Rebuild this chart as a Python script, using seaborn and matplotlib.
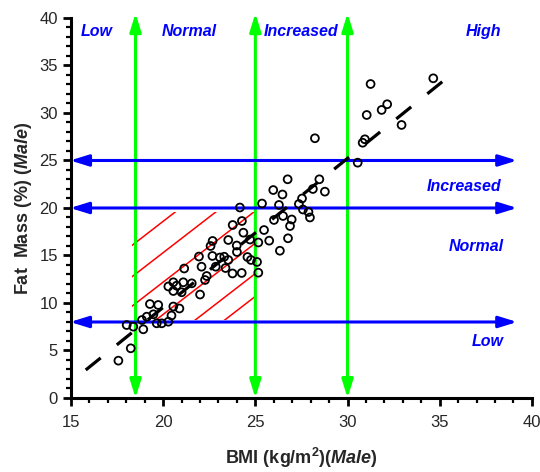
import numpy as np
import pandas as pd
import matplotlib
matplotlib.use('Agg')
import matplotlib.pyplot as plt
from matplotlib.patches import Rectangle
import seaborn as sns

# BMI vs fat mass, male subjects
bmi = [34.65, 31.25, 31.04, 31.85, 32.15, 32.93, 30.94, 30.82, 28.23, 30.55,
       28.47, 28.12, 28.77, 26.75, 25.97, 26.47, 27.53, 27.36, 27.58, 27.88,
       27.96, 25.36, 26.28, 24.16, 26.50, 26.01, 26.97, 26.88, 25.47, 23.77,
       24.27, 24.35, 26.77, 26.33, 25.75, 25.16, 24.71, 23.53, 23.99, 22.68,
       22.57, 24.00, 24.57, 24.76, 25.09, 23.31, 22.67, 23.08, 23.53, 21.94,
       22.08, 22.85, 23.76, 24.26, 25.16, 22.36, 21.14, 23.38, 22.27, 20.55,
       21.09, 21.55, 20.28, 20.73, 20.55, 21.00, 22.00, 19.28, 19.73, 20.55,
       20.88, 19.47, 19.11, 20.45, 19.65, 19.92, 20.28, 18.02, 18.38, 18.92,
       18.85, 18.24, 17.57]
fat = [33.65, 33.05, 29.79, 30.32, 30.92, 28.74, 27.23, 26.87, 27.34, 24.77,
       23.02, 22.00, 21.72, 23.02, 21.89, 21.42, 21.00, 20.42, 19.84, 19.58,
       19.00, 20.47, 20.32, 20.05, 19.16, 18.74, 18.79, 18.10, 17.68, 18.21,
       18.63, 17.40, 16.81, 15.50, 16.56, 16.37, 16.68, 16.63, 16.05, 16.53,
       16.00, 15.37, 14.84, 14.53, 14.32, 14.87, 14.95, 14.79, 14.53, 14.89,
       13.82, 13.82, 13.11, 13.16, 13.19, 12.84, 13.63, 13.68, 12.42, 12.18,
       12.18, 12.07, 11.74, 11.82, 11.26, 11.13, 10.89, 9.89, 9.79, 9.63,
       9.42, 8.81, 8.56, 8.68, 7.86, 7.86, 8.03, 7.68, 7.51, 7.23,
       8.21, 5.23, 3.93]

# regression line (end points)
fit_x = [15.8, 35.4]
fit_y = [2.95, 33.7]

# category cut-offs
bmi_cuts = [18.5, 25, 30]
fat_cuts = [25, 20, 8]
bmi_labels = ['Low', 'Normal', 'Increased', 'High']
bmi_label_x = [16.4, 21.4, 27.5, 37.4]
fat_labels = ['Increased', 'Normal', 'Low']
fat_label_x = [36.3, 37.0, 37.6]
fat_label_y = [22.3, 15.9, 5.9]

# hatched "normal" zone: lines y = 1.5*(x-15) + offset
hatch_slope = 1.5
hatch_offsets = [11.1, 7.8, 4.7, 1.3, -1.9, -4.3]
hatch_box = (18.3, 8.2, 25.0, 19.6)

df = pd.DataFrame({'bmi': bmi, 'fat': fat})

sns.set_style('ticks')
plt.rcParams['font.family'] = ['Liberation Sans', 'DejaVu Sans']
plt.rcParams['mathtext.fontset'] = 'custom'
plt.rcParams['mathtext.rm'] = 'Liberation Sans:bold'
plt.rcParams['mathtext.bf'] = 'Liberation Sans:bold'
plt.rcParams['mathtext.it'] = 'Liberation Sans:bold:italic'

fig = plt.figure(figsize=(5.4, 4.72), dpi=100)
ax = fig.add_axes([0.1315, 0.1568, 0.8535, 0.8051])

# hatch
rect = Rectangle((hatch_box[0], hatch_box[1]), hatch_box[2] - hatch_box[0],
                 hatch_box[3] - hatch_box[1], transform=ax.transData)
xx = np.array([15, 40])
for off in hatch_offsets:
    ln, = ax.plot(xx, hatch_slope * (xx - 15) + off, color='#ff0000', lw=1.1, zorder=1)
    ln.set_clip_path(rect)

# arrows
for x in bmi_cuts:
    ax.annotate('', xy=(x, 40.5), xytext=(x, 0),
                arrowprops=dict(arrowstyle='<|-|>,head_length=0.55,head_width=0.17',
                                color='#00ff00', lw=2.2, mutation_scale=20,
                                shrinkA=0, shrinkB=0),
                annotation_clip=False, zorder=2)
for y in fat_cuts:
    ax.annotate('', xy=(39.2, y), xytext=(14.95, y),
                arrowprops=dict(arrowstyle='<|-|>,head_length=0.55,head_width=0.17',
                                color='#0000ff', lw=2.2, mutation_scale=20,
                                shrinkA=0, shrinkB=0),
                annotation_clip=False, zorder=2)

# regression
line, = ax.plot(fit_x, fit_y, color='black', lw=2.3, zorder=3)
line.set_dashes((6, 6.5))

sns.scatterplot(data=df, x='bmi', y='fat', marker='o', s=32,
                facecolor='none', edgecolor='black', linewidth=1.3, ax=ax, zorder=4)

for lab, x in zip(bmi_labels, bmi_label_x):
    ax.text(x, 38.55, lab, color='#0000ff', fontsize=11.5, fontweight='bold',
            fontstyle='italic', ha='center', va='center')
for lab, x, y in zip(fat_labels, fat_label_x, fat_label_y):
    ax.text(x, y, lab, color='#0000ff', fontsize=11.5, fontweight='bold',
            fontstyle='italic', ha='center', va='center')

ax.set_xlim(15, 40)
ax.set_ylim(0, 40)
ax.set_xticks([15, 20, 25, 30, 35, 40])
ax.set_yticks([0, 5, 10, 15, 20, 25, 30, 35, 40])
ax.set_xticks(np.arange(15, 41, 1), minor=True)
ax.set_yticks(np.arange(0, 41, 1), minor=True)
ax.tick_params(which='major', direction='out', length=6, width=2, labelsize=12, color='black')
ax.tick_params(axis='x', which='major', pad=6)
ax.tick_params(which='minor', direction='out', length=3.5, width=1.6, color='black')
sns.despine(ax=ax)
for s in ['left', 'bottom']:
    ax.spines[s].set_linewidth(2.2)
    ax.spines[s].set_color('black')

ax.set_xlabel('BMI (kg/m$^{2}$)($\\mathit{Male}$)', fontsize=13, fontweight='bold', labelpad=12)
ax.set_ylabel('Fat  Mass (%) ($\\mathit{Male}$)', fontsize=13, fontweight='bold', labelpad=4)

fig.savefig('out.png', dpi=100)
